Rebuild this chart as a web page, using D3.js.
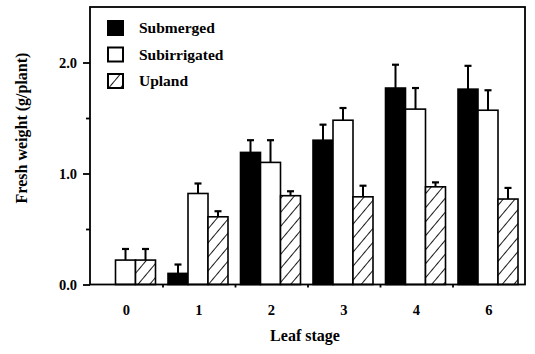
<!DOCTYPE html>
<html><head><meta charset="utf-8">
<script src="https://cdn.jsdelivr.net/npm/d3@7"></script>
<style>
html,body{margin:0;padding:0;background:#fff;}
text{font-family:"Liberation Serif","Times New Roman",serif;font-weight:bold;fill:#000;}
</style></head>
<body><svg id="c" width="535" height="354"></svg>
<script>
const categories = ["0","1","2","3","4","6"];
const series = ["Submerged","Subirrigated","Upland"];
const submerged    = [0.00, 0.10, 1.19, 1.30, 1.77, 1.76];
const submergedErr = [0.00, 0.08, 0.11, 0.14, 0.21, 0.21];
const subirrigated    = [0.22, 0.82, 1.10, 1.48, 1.58, 1.57];
const subirrigatedErr = [0.10, 0.09, 0.20, 0.11, 0.19, 0.18];
const upland    = [0.22, 0.61, 0.80, 0.79, 0.88, 0.77];
const uplandErr = [0.10, 0.05, 0.04, 0.10, 0.04, 0.10];
const yMajorTicks = [0, 1, 2];
const yMinorTicks = [0.5, 1.5];
const xLabel = "Leaf stage";
const yLabel = "Fresh weight (g/plant)";

const values = {Submerged: submerged, Subirrigated: subirrigated, Upland: upland};
const errors = {Submerged: submergedErr, Subirrigated: subirrigatedErr, Upland: uplandErr};
const data = [];
categories.forEach((c, i) => series.forEach(s => data.push({cat: c, s, v: values[s][i], e: errors[s][i]})));

const L = 90, R = 525, T = 7, B = 284.5;
const svg = d3.select("#c");
const defs = svg.append("defs");
const pat = defs.append("pattern").attr("id","hatch").attr("patternUnits","userSpaceOnUse")
  .attr("width",9).attr("height",9).attr("patternTransform","rotate(40 0 0)");
pat.append("rect").attr("width",9).attr("height",9).attr("fill","#fff");
pat.append("line").attr("x1",0).attr("y1",0).attr("x2",0).attr("y2",9).attr("stroke","#000").attr("stroke-width",1.8);

const x0 = d3.scaleBand().domain(categories).range([L, R]).padding(0);
const x1 = d3.scaleBand().domain(series).range([5.5, 65.5]).padding(0);
const y = d3.scaleLinear().domain([0, 2.5]).range([B, T]);
const fill = {Submerged: "#000", Subirrigated: "#fff", Upland: "url(#hatch)"};

// error bars
const eb = svg.append("g").selectAll("g").data(data.filter(d => d.e > 0)).join("g");
eb.append("line")
  .attr("x1", d => x0(d.cat) + x1(d.s) + x1.bandwidth()/2)
  .attr("x2", d => x0(d.cat) + x1(d.s) + x1.bandwidth()/2)
  .attr("y1", d => y(d.v)).attr("y2", d => y(d.v + d.e))
  .attr("stroke","#000").attr("stroke-width",2);
eb.append("line")
  .attr("x1", d => x0(d.cat) + x1(d.s) + x1.bandwidth()/2 - 3.5)
  .attr("x2", d => x0(d.cat) + x1(d.s) + x1.bandwidth()/2 + 3.5)
  .attr("y1", d => y(d.v + d.e)).attr("y2", d => y(d.v + d.e))
  .attr("stroke","#000").attr("stroke-width",2.2);

// bars
svg.append("g").selectAll("rect").data(data).join("rect")
  .attr("x", d => x0(d.cat) + x1(d.s))
  .attr("y", d => y(d.v))
  .attr("width", x1.bandwidth())
  .attr("height", d => Math.max(0, y(0) - y(d.v)))
  .attr("fill", d => fill[d.s])
  .attr("stroke","#000").attr("stroke-width",1.6);

// frame
svg.append("rect").attr("x",L).attr("y",T).attr("width",R-L).attr("height",B-T)
  .attr("fill","none").attr("stroke","#000").attr("stroke-width",1.8);

// y axes
const yMaj = svg.append("g").attr("transform",`translate(${L},0)`)
  .call(d3.axisLeft(y).tickValues(yMajorTicks).tickSize(7).tickPadding(6).tickFormat(d3.format(".1f")));
const yMin = svg.append("g").attr("transform",`translate(${L},0)`)
  .call(d3.axisLeft(y).tickValues(yMinorTicks).tickSize(4).tickFormat(""));
[yMaj, yMin].forEach(g => {
  g.select(".domain").remove();
  g.selectAll("line").attr("stroke","#000").attr("stroke-width",1.8);
  g.selectAll("text").style("font-size","14.5px").style("font-family","Liberation Serif").style("font-weight","bold");
});

// x axis labels
const xa = svg.append("g").attr("transform",`translate(0,${B})`)
  .call(d3.axisBottom(x0).tickSize(0).tickPadding(20));
xa.select(".domain").remove();
xa.selectAll("text").style("font-size","14.5px").style("font-family","Liberation Serif").style("font-weight","bold");
// x boundary ticks
const xb = d3.scaleLinear().domain([0, categories.length]).range([L, R]);
const xt = svg.append("g").attr("transform",`translate(0,${B})`)
  .call(d3.axisBottom(xb).tickValues(d3.range(1, categories.length)).tickSize(3).tickFormat(""));
xt.select(".domain").remove();
xt.selectAll("line").attr("stroke","#000").attr("stroke-width",1.8);

// axis titles
svg.append("text").attr("x",305).attr("y",341).attr("text-anchor","middle")
  .style("font-size","16px").text(xLabel);
svg.append("text").attr("transform","translate(27,128) rotate(-90)").attr("text-anchor","middle")
  .style("font-size","16px").text(yLabel);

// legend
const lg = svg.append("g").selectAll("g").data(series).join("g")
  .attr("transform",(d,i) => `translate(108,${21 + i*26.5})`);
lg.append("rect").attr("width",15).attr("height",14)
  .attr("fill", d => fill[d]).attr("stroke","#000").attr("stroke-width",2);
lg.append("text").attr("x",31).attr("y",7).attr("dy","0.35em")
  .style("font-size","15.5px").text(d => d);
</script></body></html>
